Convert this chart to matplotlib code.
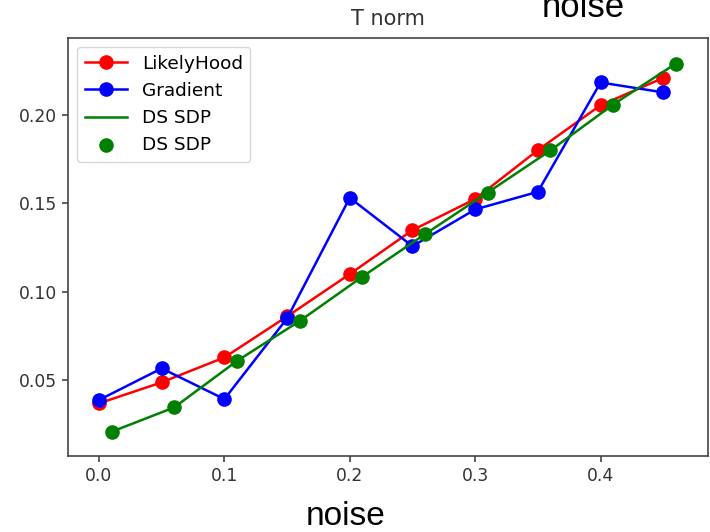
import numpy as np
import matplotlib.pyplot as plt

noise = [0.0, 0.05, 0.1, 0.15, 0.2, 0.25, 0.3, 0.35, 0.4, 0.45]
noise_ds = [0.01, 0.06, 0.11, 0.16, 0.21, 0.26, 0.31, 0.36, 0.41, 0.46]

likelyhood = [0.0368, 0.0487, 0.0628, 0.086, 0.110, 0.1349, 0.1525, 0.1802, 0.2056, 0.2211]
gradient = [0.0387, 0.0566, 0.0392, 0.0849, 0.1532, 0.1258, 0.1466, 0.1566, 0.2185, 0.2129]
ds_sdp = [0.0207, 0.0345, 0.0608, 0.0834, 0.1085, 0.1326, 0.1562, 0.180, 0.206, 0.2292]

fig = plt.figure(figsize=(7.1, 5.32), dpi=100)
ax = fig.add_axes([0.0958, 0.1429, 0.9012, 0.7857])

ax.plot(noise, likelyhood, 'r-o', lw=1.8, ms=9.5, label='LikelyHood')
ax.plot(noise, gradient, 'b-o', lw=1.8, ms=9.5, label='Gradient')
ax.plot(noise_ds, ds_sdp, 'g-', lw=1.8, label='DS SDP')
ax.scatter(noise_ds, ds_sdp, c='g', s=90, zorder=3, label='DS SDP')

ax.set_xticks([0.0, 0.1, 0.2, 0.3, 0.4])
ax.set_yticks([0.05, 0.10, 0.15, 0.20])
ax.set_xlim(-0.0247, 0.4856)
ax.set_ylim(0.007, 0.2437)
ax.tick_params(labelsize=12.3, length=4.5, width=1.1, colors='#333333')
for s in ax.spines.values():
    s.set_linewidth(1.2)
    s.set_color('#444444')

ax.set_title('T norm', fontsize=15, color='#333333', pad=9)
ax.legend(loc='upper left', fontsize=13.3, handlelength=2.3)

# stray labels from the original figure (top one is cut by the edge in the source)
fig.text(346 / 710, 1 - 525 / 532, 'noise', fontsize=24, family='Liberation Sans',
         ha='center', va='baseline')
fig.text(583 / 710, 1 - 17 / 532, 'noise', fontsize=25, family='Liberation Sans',
         ha='center', va='baseline')

fig.savefig('out.png', dpi=100)
